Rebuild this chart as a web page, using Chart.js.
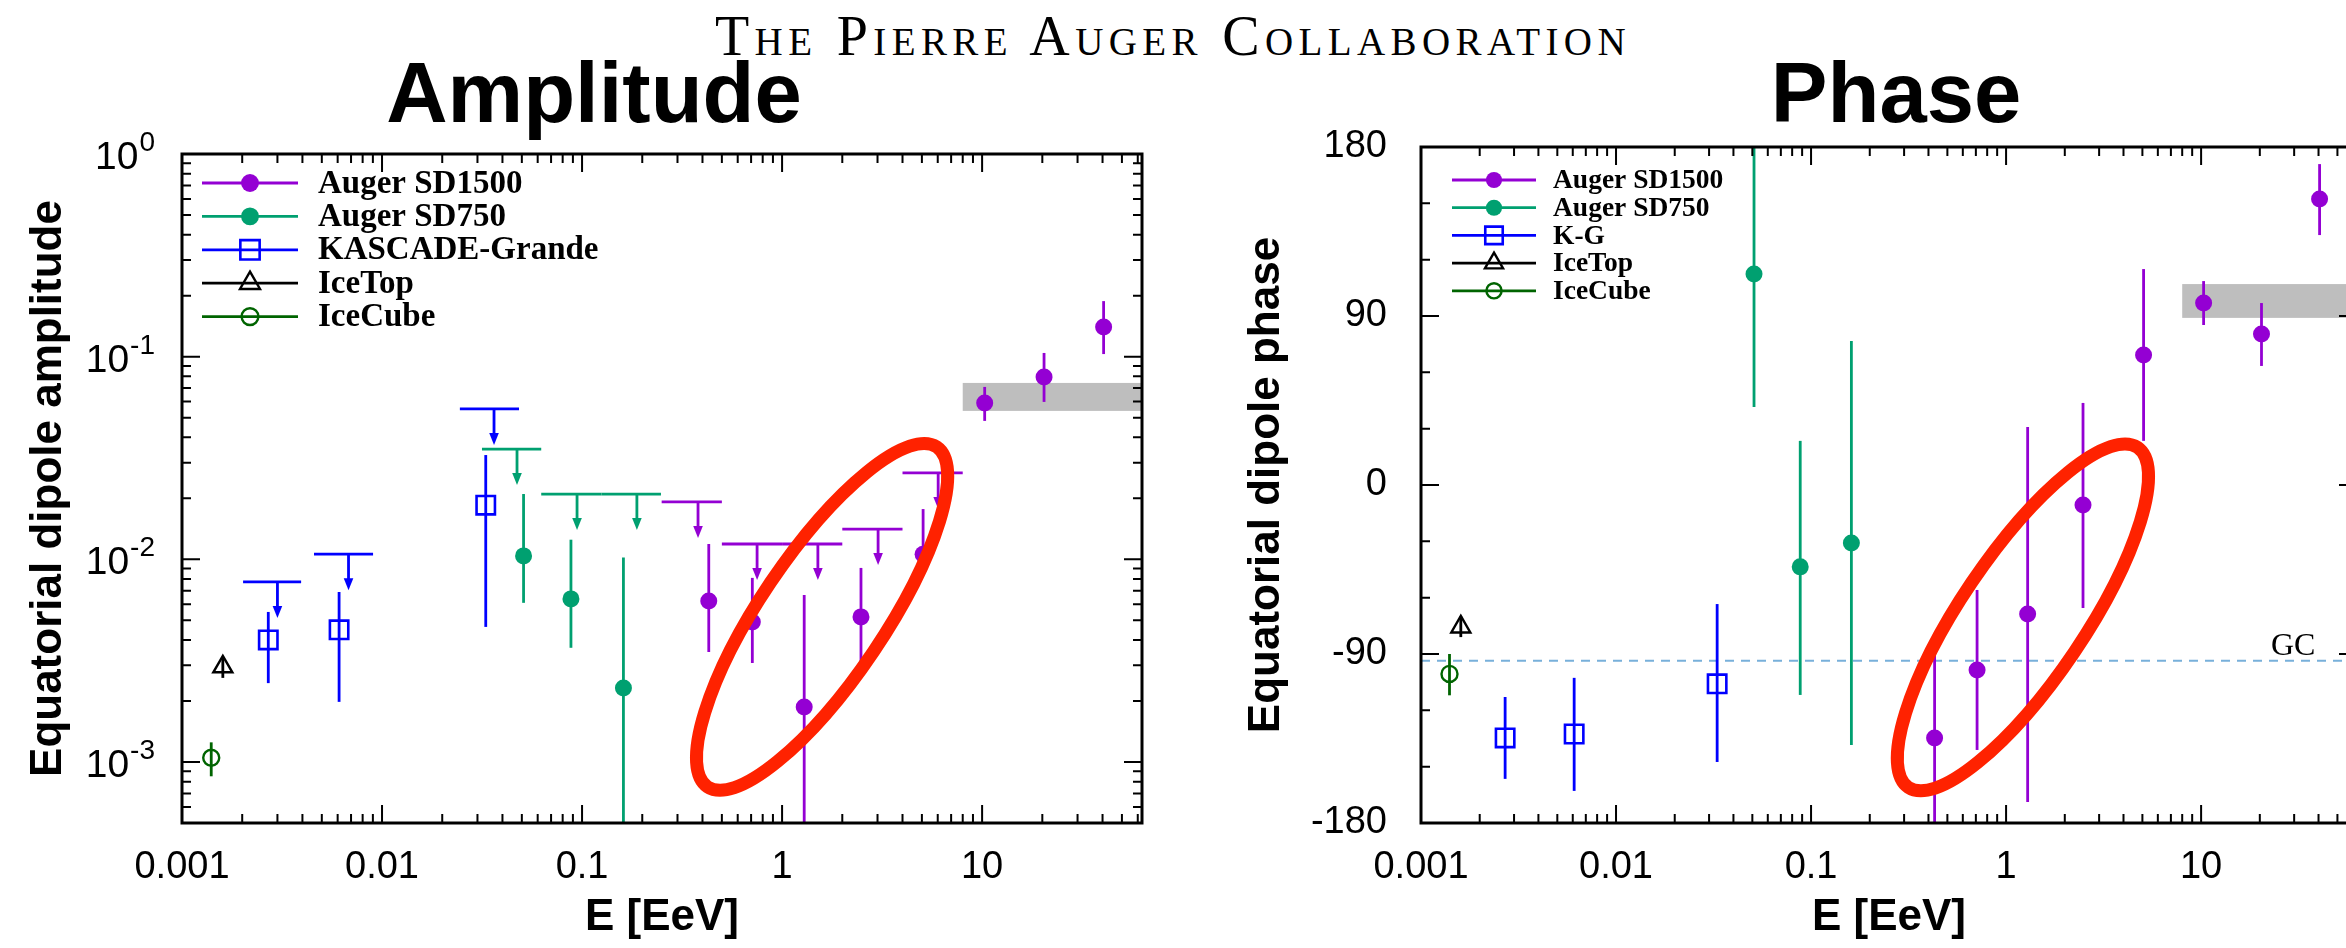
<!DOCTYPE html>
<html><head><meta charset="utf-8">
<script src="https://cdn.jsdelivr.net/npm/chart.js@4.4.1/dist/chart.umd.min.js"></script>
<style>
html,body{margin:0;padding:0;background:#fff;}
body{width:2346px;height:948px;overflow:hidden;position:relative;}
#hdr{position:absolute;left:0;width:2346px;top:8px;text-align:center;font-family:'Liberation Serif',serif;font-size:56px;line-height:56px;letter-spacing:5.4px;font-variant-caps:small-caps;color:#000;white-space:nowrap;}
.ttl{position:absolute;top:50px;font-family:'Liberation Sans',Arial,sans-serif;font-weight:bold;font-size:85px;line-height:85px;text-align:center;width:600px;color:#000;}
canvas{position:absolute;top:0;}
</style></head><body>
<div id="hdr">The Pierre Auger Collaboration</div>
<div class="ttl" style="left:294px">Amplitude</div>
<div class="ttl" style="left:1596px">Phase</div>
<canvas id="c1" width="1200" height="948" style="left:0"></canvas>
<canvas id="c2" width="1200" height="948" style="left:1200px"></canvas>
<script>
// ================= DATA =================
const xTickVals   = [0.001, 0.01, 0.1, 1, 10];
const xTickLabels = ['0.001', '0.01', '0.1', '1', '10'];
const ampTickVals = [1, 0.1, 0.01, 0.001];
const ampTickExp  = ['0', '-1', '-2', '-3'];
const phaseTickVals   = [-180, -90, 0, 90, 180];
const phaseTickLabels = ['-180', '-90', '0', '90', '180'];

// Auger SD1500
const sd1500E       = [0.43, 0.71, 1.29, 2.48, 5.07, 10.3, 20.4, 40.5];
const sd1500Amp     = [0.00623, 0.00491, 0.00187, 0.0052, 0.0106, 0.0591, 0.0794, 0.140];
const sd1500AmpHi   = [0.0119, 0.0081, 0.00667, 0.00907, 0.0177, 0.0709, 0.1043, 0.188];
const sd1500AmpLo   = [0.00349, 0.00308, 0.00001, 0.00298, 0.0084, 0.0482, 0.0598, 0.103];
const sd1500Phase   = [-134.7, -98.5, -68.7, -10.6, 69.2, 96.9, 80.4, 152.3];
const sd1500PhaseHi = [-82.5, -55.9, 30.9, 43.7, 115.0, 108.6, 96.9, 170.9];
const sd1500PhaseLo = [-200, -141.1, -168.8, -65.5, 23.5, 85.2, 63.4, 133.1];
const sd1500UlLo    = [0.25, 0.5, 1, 2, 4];
const sd1500UlHi    = [0.5, 1, 2, 4, 8];
const sd1500UlArrow = [0.38, 0.75, 1.51, 3.02, 6.03];
const sd1500Ul      = [0.0192, 0.0119, 0.0119, 0.0141, 0.0267];

// Auger SD750
const sd750E       = [0.051, 0.088, 0.161];
const sd750Amp     = [0.0104, 0.00638, 0.00232];
const sd750AmpHi   = [0.0210, 0.0125, 0.0102];
const sd750AmpLo   = [0.0061, 0.00366, 0.00001];
const sd750Phase   = [112.4, -43.6, -30.9];
const sd750PhaseHi = [200, 23.5, 76.7];
const sd750PhaseLo = [41.6, -111.8, -138.4];
const sd750UlLo    = [0.0316, 0.0625, 0.125];
const sd750UlHi    = [0.0625, 0.125, 0.248];
const sd750UlArrow = [0.0473, 0.0944, 0.188];
const sd750Ul      = [0.035, 0.021, 0.021];

// KASCADE-Grande
const kgE       = [0.0027, 0.0061, 0.033];
const kgAmp     = [0.0040, 0.00449, 0.0185];
const kgAmpHi   = [0.0055, 0.0069, 0.0327];
const kgAmpLo   = [0.00245, 0.00198, 0.00464];
const kgPhase   = [-134.7, -132.6, -105.9];
const kgPhaseHi = [-112.9, -102.7, -63.4];
const kgPhaseLo = [-156.5, -162.9, -147.5];
const kgUlLo    = [0.00202, 0.00457, 0.0245];
const kgUlHi    = [0.00394, 0.00902, 0.0484];
const kgUlArrow = [0.0030, 0.0068, 0.0363];
const kgUl      = [0.00774, 0.0106, 0.0552];

// IceTop
const itE = [0.0016];
const itAmp = [0.00295], itAmpHi = [0.0033], itAmpLo = [0.0026];
const itPhase = [-75.6], itPhaseHi = [-70], itPhaseLo = [-81];

// IceCube
const icE = [0.0014];
const icAmp = [0.00105], icAmpHi = [0.00125], icAmpLo = [0.00085];
const icPhase = [-100.6], icPhaseHi = [-90], icPhaseLo = [-112];

// Bands / reference / highlight
const bandEmin   = 8;
const ampBand    = [0.054, 0.0742];
const phaseBand  = [89, 107];
const gcPhase    = -93.6;
const ampEllipseCenter   = [1.585, 0.0052];
const phaseEllipseCenter = [1.22, -70.5];

// ================= STYLE =================
const C_SD1500 = '#9400d3', C_SD750 = '#00a070', C_KG = '#0000ff', C_IT = '#000000', C_IC = '#006400';
const SANS = "'Liberation Sans', Arial, sans-serif";
const SERIF = "'Liberation Serif', 'Times New Roman', serif";
Chart.defaults.font.family = SANS;
Chart.defaults.color = '#000';

function pts(xs, ys) { return xs.map((x, i) => ({x: x, y: ys[i]})); }
function ds(label, xs, ys, lo, hi, color, style, r, filled, bw) {
  return {
    label: label, data: pts(xs, ys), errLo: lo, errHi: hi,
    showLine: false, borderColor: color, backgroundColor: color,
    pointStyle: style, pointRadius: r, pointHoverRadius: r,
    pointBackgroundColor: filled ? color : 'rgba(0,0,0,0)',
    pointBorderColor: color, pointBorderWidth: bw, pointHoverBorderWidth: bw
  };
}

function logTicks(min, max) {
  const major = [], minor = [];
  for (let e = Math.floor(Math.log10(min)) - 1; e <= Math.ceil(Math.log10(max)); e++) {
    for (let m = 1; m < 10; m++) {
      const v = m * Math.pow(10, e);
      if (v < min * 0.9999 || v > max * 1.0001) continue;
      (m === 1 ? major : minor).push(v);
    }
  }
  return {major, minor};
}

function makeDecor(cfg) {
  return {
    id: 'decor',
    beforeDatasetsDraw(chart) {
      const {ctx, chartArea: ca} = chart; const xs = chart.scales.x, ys = chart.scales.y;
      ctx.save();
      ctx.beginPath(); ctx.rect(ca.left, ca.top, ca.right - ca.left, ca.bottom - ca.top); ctx.clip();
      const bx = xs.getPixelForValue(cfg.band.xmin);
      const by0 = ys.getPixelForValue(cfg.band.range[1]), by1 = ys.getPixelForValue(cfg.band.range[0]);
      ctx.fillStyle = '#bebebe'; ctx.fillRect(bx, by0, ca.right - bx, by1 - by0);
      if (cfg.refLine) {
        const gy = ys.getPixelForValue(cfg.refLine.value);
        ctx.strokeStyle = '#78b0da'; ctx.lineWidth = 2; ctx.setLineDash([9, 7]);
        ctx.beginPath(); ctx.moveTo(ca.left, gy); ctx.lineTo(ca.right, gy); ctx.stroke();
        ctx.setLineDash([]);
      }
      chart.data.datasets.forEach(d => {
        ctx.strokeStyle = d.borderColor; ctx.lineWidth = 2.8;
        d.data.forEach((p, i) => {
          const px = xs.getPixelForValue(p.x);
          ctx.beginPath();
          ctx.moveTo(px, ys.getPixelForValue(d.errHi[i]));
          ctx.lineTo(px, ys.getPixelForValue(d.errLo[i]));
          ctx.stroke();
        });
      });
      (cfg.uls || []).forEach(u => {
        ctx.strokeStyle = u.color; ctx.fillStyle = u.color; ctx.lineWidth = 2.8;
        u.val.forEach((v, i) => {
          const yy = ys.getPixelForValue(v);
          const xa = xs.getPixelForValue(u.lo[i]), xb = xs.getPixelForValue(u.hi[i]), xc = xs.getPixelForValue(u.arrow[i]);
          ctx.beginPath(); ctx.moveTo(xa, yy); ctx.lineTo(xb, yy);
          ctx.moveTo(xc, yy); ctx.lineTo(xc, yy + 26); ctx.stroke();
          ctx.beginPath(); ctx.moveTo(xc - 4.8, yy + 24); ctx.lineTo(xc + 4.8, yy + 24); ctx.lineTo(xc, yy + 36);
          ctx.closePath(); ctx.fill();
        });
      });
      ctx.restore();
    },
    afterDatasetsDraw(chart) {
      const {ctx, chartArea: ca} = chart; const xs = chart.scales.x, ys = chart.scales.y;
      ctx.save();
      // highlight ellipse
      const e = cfg.ellipse;
      ctx.strokeStyle = '#ff2200'; ctx.lineWidth = 13;
      ctx.beginPath();
      ctx.ellipse(xs.getPixelForValue(e.x), ys.getPixelForValue(e.y), e.rx, e.ry, e.rot * Math.PI / 180, 0, 2 * Math.PI);
      ctx.stroke();
      // frame
      ctx.strokeStyle = '#000'; ctx.lineWidth = 3;
      ctx.strokeRect(ca.left, ca.top, ca.right - ca.left, ca.bottom - ca.top);
      // ticks
      ctx.lineWidth = 2;
      const xt = logTicks(xs.min, xs.max);
      const tickX = (v, len) => { const p = xs.getPixelForValue(v);
        ctx.beginPath(); ctx.moveTo(p, ca.bottom); ctx.lineTo(p, ca.bottom - len);
        ctx.moveTo(p, ca.top); ctx.lineTo(p, ca.top + len); ctx.stroke(); };
      const tickY = (v, len) => { const p = ys.getPixelForValue(v);
        ctx.beginPath(); ctx.moveTo(ca.left, p); ctx.lineTo(ca.left + len, p);
        ctx.moveTo(ca.right, p); ctx.lineTo(ca.right - len, p); ctx.stroke(); };
      xt.major.forEach(v => tickX(v, 18)); xt.minor.forEach(v => tickX(v, 9));
      if (cfg.yLog) {
        const yt = logTicks(ys.min, ys.max);
        yt.major.forEach(v => tickY(v, 18)); yt.minor.forEach(v => tickY(v, 9));
      } else {
        for (let v = ys.min; v <= ys.max; v += 30) tickY(v, (v % 90 === 0) ? 18 : 9);
      }
      // superscript log labels
      if (cfg.sup) {
        ctx.fillStyle = '#000'; ctx.textAlign = 'right'; ctx.textBaseline = 'alphabetic';
        cfg.sup.vals.forEach((v, i) => {
          const p = ys.getPixelForValue(v);
          const xr = ca.left - 27;
          ctx.font = '28px ' + SANS;
          const w = ctx.measureText(cfg.sup.exps[i]).width;
          ctx.fillText(cfg.sup.exps[i], xr, p - 3);
          ctx.font = '39px ' + SANS;
          ctx.fillText('10', xr - w - 1, p + 15);
        });
      }
      // reference label
      if (cfg.refLine) {
        ctx.fillStyle = '#000'; ctx.font = '32px ' + SERIF; ctx.textAlign = 'left'; ctx.textBaseline = 'alphabetic';
        ctx.fillText(cfg.refLine.label, ca.right - 86, ys.getPixelForValue(cfg.refLine.value) - 6);
      }
      // legend
      const L = cfg.legend;
      chart.data.datasets.forEach((d, i) => {
        const yy = L.y0 + i * L.dy;
        ctx.strokeStyle = d.borderColor; ctx.lineWidth = 2.8;
        ctx.beginPath(); ctx.moveTo(L.x0, yy); ctx.lineTo(L.x1, yy); ctx.stroke();
        ctx.fillStyle = d.pointBackgroundColor; ctx.strokeStyle = d.pointBorderColor; ctx.lineWidth = d.pointBorderWidth;
        Chart.helpers.drawPoint(ctx, {pointStyle: d.pointStyle, rotation: 0, radius: d.pointRadius * L.ms, borderWidth: d.pointBorderWidth}, L.mx, yy);
        ctx.fillStyle = '#000'; ctx.font = 'bold ' + L.font + 'px ' + SERIF;
        ctx.textAlign = 'left'; ctx.textBaseline = 'middle';
        ctx.fillText(d.label, L.tx, yy + 1);
      });
      ctx.restore();
    }
  };
}

function xScale() {
  return {
    type: 'logarithmic', min: 0.001, max: 63,
    afterBuildTicks: s => { s.ticks = xTickVals.map(v => ({value: v})); },
    afterFit: s => { s.height = 125; },
    grid: {display: false}, border: {display: false},
    ticks: {autoSkip: false, maxRotation: 0, minRotation: 0, padding: 14, color: '#000',
      font: {size: 38, family: SANS}, callback: (v, i) => xTickLabels[i]},
    title: {display: true, text: 'E [EeV]', color: '#000', font: {size: 44, weight: 'bold', family: SANS},
      padding: {top: 0, bottom: 4}}
  };
}

const ampDatasets = [
  ds('Auger SD1500', sd1500E, sd1500Amp, sd1500AmpLo, sd1500AmpHi, C_SD1500, 'circle', 8.5, true, 0),
  ds('Auger SD750', sd750E, sd750Amp, sd750AmpLo, sd750AmpHi, C_SD750, 'circle', 8.5, true, 0),
  ds('KASCADE-Grande', kgE, kgAmp, kgAmpLo, kgAmpHi, C_KG, 'rect', 13, false, 2.6),
  ds('IceTop', itE, itAmp, itAmpLo, itAmpHi, C_IT, 'triangle', 11, false, 2.4),
  ds('IceCube', icE, icAmp, icAmpLo, icAmpHi, C_IC, 'circle', 8, false, 2.4)
];
const phaseDatasets = [
  ds('Auger SD1500', sd1500E, sd1500Phase, sd1500PhaseLo, sd1500PhaseHi, C_SD1500, 'circle', 8.5, true, 0),
  ds('Auger SD750', sd750E, sd750Phase, sd750PhaseLo, sd750PhaseHi, C_SD750, 'circle', 8.5, true, 0),
  ds('K-G', kgE, kgPhase, kgPhaseLo, kgPhaseHi, C_KG, 'rect', 13, false, 2.6),
  ds('IceTop', itE, itPhase, itPhaseLo, itPhaseHi, C_IT, 'triangle', 11, false, 2.4),
  ds('IceCube', icE, icPhase, icPhaseLo, icPhaseHi, C_IC, 'circle', 8, false, 2.4)
];

new Chart(document.getElementById('c1'), {
  type: 'scatter',
  data: {datasets: ampDatasets},
  options: {
    responsive: false, animation: false, devicePixelRatio: 1,
    layout: {padding: {left: 0, top: 154, right: 58, bottom: 0}},
    plugins: {legend: {display: false}, tooltip: {enabled: false}},
    scales: {
      x: xScale(),
      y: {
        type: 'logarithmic', min: 0.0005, max: 1,
        afterFit: s => { s.width = 182; },
        grid: {display: false}, border: {display: false}, ticks: {display: false},
        title: {display: true, text: 'Equatorial dipole amplitude', color: '#000',
          font: {size: 44, weight: 'bold', family: SANS}, padding: {top: 22, bottom: 0}}
      }
    }
  },
  plugins: [makeDecor({
    band: {xmin: bandEmin, range: ampBand},
    uls: [
      {lo: kgUlLo, hi: kgUlHi, arrow: kgUlArrow, val: kgUl, color: C_KG},
      {lo: sd750UlLo, hi: sd750UlHi, arrow: sd750UlArrow, val: sd750Ul, color: C_SD750},
      {lo: sd1500UlLo, hi: sd1500UlHi, arrow: sd1500UlArrow, val: sd1500Ul, color: C_SD1500}
    ],
    ellipse: {x: ampEllipseCenter[0], y: ampEllipseCenter[1], rx: 205, ry: 62, rot: -56},
    yLog: true,
    sup: {vals: ampTickVals, exps: ampTickExp},
    legend: {x0: 202, x1: 298, mx: 250, tx: 318, y0: 183, dy: 33.4, font: 33, ms: 1.05}
  })]
});

new Chart(document.getElementById('c2'), {
  type: 'scatter',
  data: {datasets: phaseDatasets},
  options: {
    responsive: false, animation: false, devicePixelRatio: 1,
    layout: {padding: {left: 0, top: 147, right: 43, bottom: 0}},
    plugins: {legend: {display: false}, tooltip: {enabled: false}},
    scales: {
      x: xScale(),
      y: {
        type: 'linear', min: -180, max: 180,
        afterBuildTicks: s => { s.ticks = phaseTickVals.map(v => ({value: v})); },
        afterFit: s => { s.width = 221; },
        grid: {display: false}, border: {display: false},
        ticks: {padding: 26, color: '#000', font: {size: 38, family: SANS}, callback: (v, i) => phaseTickLabels[i]},
        title: {display: true, text: 'Equatorial dipole phase', color: '#000',
          font: {size: 44, weight: 'bold', family: SANS}, padding: {top: 40, bottom: 0}}
      }
    }
  },
  plugins: [makeDecor({
    band: {xmin: bandEmin, range: phaseBand},
    refLine: {value: gcPhase, label: 'GC'},
    uls: [],
    ellipse: {x: phaseEllipseCenter[0], y: phaseEllipseCenter[1], rx: 205, ry: 62, rot: -56},
    yLog: false,
    legend: {x0: 252, x1: 336, mx: 294, tx: 353, y0: 180, dy: 27.7, font: 27.5, ms: 0.95}
  })]
});
</script>
</body></html>
